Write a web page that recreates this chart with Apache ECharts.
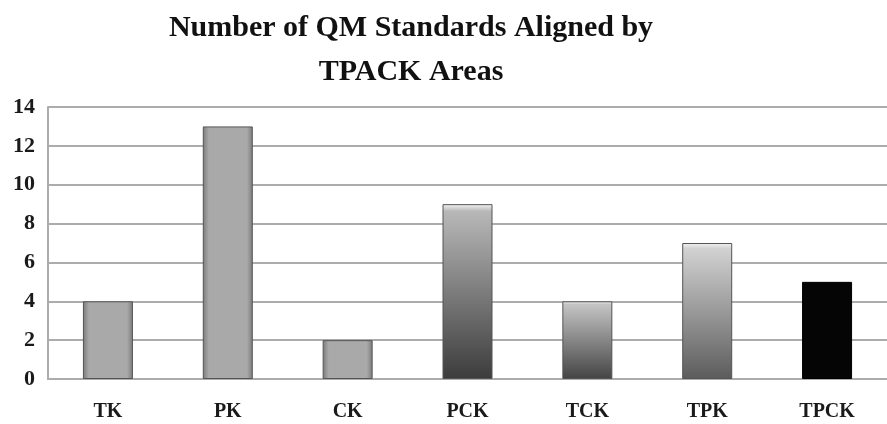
<!DOCTYPE html>
<html>
<head>
<meta charset="utf-8">
<script src="https://cdn.jsdelivr.net/npm/echarts@6/dist/echarts.min.js"></script>
<style>
  html, body { margin: 0; padding: 0; background: #fff; }
  #chart { width: 887px; height: 424px; }
</style>
</head>
<body>
<div id="chart"></div>
<script>
const areas = ['TK', 'PK', 'CK', 'PCK', 'TCK', 'TPK', 'TPCK']
const standards = [4, 13, 2, 9, 4, 7, 5]
const yTicks = { min: 0, max: 14, interval: 2 }

// fill per bar: flat-ish gray, vertical fades, and the black one
const fills = ['flat', 'flat', 'flat', 'dark', 'mid', 'light', 'black']

function sideFade(c0, c1) {
  return {
    type: 'linear', x: 0, y: 0, x2: 1, y2: 0,
    colorStops: [
      { offset: 0, color: c0 },
      { offset: 0.12, color: c1 },
      { offset: 0.88, color: c1 },
      { offset: 1, color: c0 },
    ],
  }
}

function downFade(top, bottom) {
  return {
    type: 'linear', x: 0, y: 0, x2: 0, y2: 1,
    colorStops: [
      { offset: 0, color: '#f4f4f4' },
      { offset: 0.04, color: top },
      { offset: 1, color: bottom },
    ],
  }
}

function fillFor(kind) {
  if (kind === 'flat') return sideFade('#7a7a7a', '#a9a9a9')
  if (kind === 'dark') return downFade('#b8b8b8', '#3c3c3c')
  if (kind === 'mid') return downFade('#c4c4c4', '#444444')
  if (kind === 'light') return downFade('#d2d2d2', '#5c5c5c')
  return '#050505'
}

const chart = echarts.init(document.getElementById('chart'))
const serif = '"Liberation Serif", "DejaVu Serif", serif'

chart.setOption({
  animation: false,
  title: {
    text: 'Number of QM Standards Aligned by\nTPACK Areas',
    left: 406,
    top: 1,
    textAlign: 'center',
    textStyle: {
      fontFamily: serif,
      fontWeight: 'bold',
      fontSize: 30,
      lineHeight: 44,
      color: '#111',
    },
  },
  grid: { left: 48, right: -1, top: 107, bottom: 45 },
  xAxis: {
    type: 'category',
    data: areas,
    axisLine: { lineStyle: { color: '#acacac', width: 2 } },
    axisTick: { show: false },
    axisLabel: {
      margin: 23,
      fontFamily: serif,
      fontWeight: 'bold',
      fontSize: 20,
      color: '#1a1a1a',
    },
  },
  yAxis: {
    type: 'value',
    min: yTicks.min,
    max: yTicks.max,
    interval: yTicks.interval,
    axisLine: { show: true, lineStyle: { color: '#acacac', width: 2 } },
    axisTick: { show: false },
    splitLine: { lineStyle: { color: '#acacac', width: 2 } },
    axisLabel: {
      margin: 13,
      fontFamily: serif,
      fontWeight: 'bold',
      fontSize: 22,
      color: '#1a1a1a',
    },
  },
  series: [
    {
      type: 'bar',
      barWidth: 50,
      data: standards.map((v, i) => ({
        value: v,
        itemStyle: {
          color: fillFor(fills[i]),
          borderColor: fills[i] === 'black' ? '#000' : '#555',
          borderWidth: 1,
        },
      })),
    },
  ],
})
</script>
</body>
</html>
